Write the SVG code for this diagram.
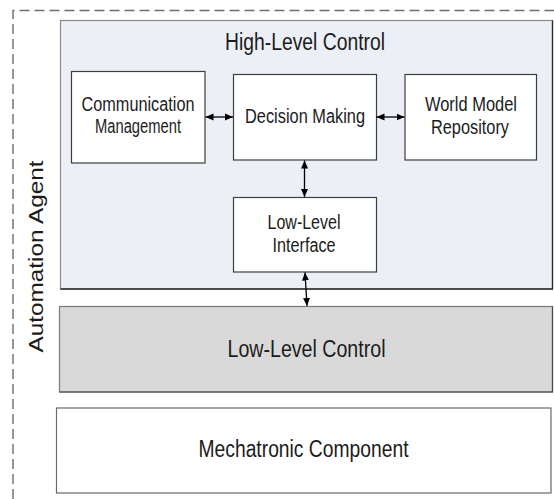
<svg xmlns="http://www.w3.org/2000/svg" width="554" height="499" viewBox="0 0 554 499">
  <style>
    .t { font-family: "Liberation Sans", Arial, sans-serif; fill: #1c1c1c; text-anchor: middle; }
    .big { font-size: 23px; }
    .sm { font-size: 19.5px; }
    .box { fill: #ffffff; stroke: #3f3f3f; stroke-width: 1.2; }
    .conn { stroke: #000; stroke-width: 1.3; fill: none; marker-start: url(#ah); marker-end: url(#ah); }
  </style>
  <defs>
    <marker id="ah" markerUnits="userSpaceOnUse" markerWidth="9" markerHeight="8" refX="8" refY="4" orient="auto-start-reverse">
      <path d="M0,0.5 L8,4 L0,7.5 z" fill="#000"/>
    </marker>
  </defs>
  <rect width="554" height="499" fill="#ffffff"/>

  <g id="automation-agent">
    <path d="M13,499 V10.5 H554" fill="none" stroke="#6e6e6e" stroke-width="1.4" stroke-dasharray="10 5"/>
    <text class="t" font-size="24" textLength="192" lengthAdjust="spacingAndGlyphs" transform="translate(43,256.5) scale(0.84,1) rotate(-90)">Automation Agent</text>
  </g>

  <g id="high-level-control">
    <rect x="60.5" y="20.5" width="492" height="268.5" fill="#eceff5" stroke="#8a8a8a" stroke-width="1.2"/>
    <path d="M60.5,289 H552.5 V20.5" fill="none" stroke="#2a2a2a" stroke-width="1.3"/>
    <text class="t big" x="305" y="50" textLength="160" lengthAdjust="spacingAndGlyphs">High-Level Control</text>
  </g>

  <g id="communication-management">
    <rect class="box" x="71.5" y="71.5" width="133.5" height="91.5"/>
    <text class="t sm" x="138" y="111" textLength="113" lengthAdjust="spacingAndGlyphs">Communication</text>
    <text class="t sm" x="138" y="133" textLength="86" lengthAdjust="spacingAndGlyphs">Management</text>
  </g>

  <g id="decision-making">
    <rect class="box" x="233.5" y="74.5" width="143" height="85.5"/>
    <text class="t sm" x="305" y="123" textLength="120" lengthAdjust="spacingAndGlyphs">Decision Making</text>
  </g>

  <g id="world-model-repository">
    <rect class="box" x="405" y="74.5" width="131.5" height="85.5"/>
    <text class="t sm" x="471" y="111" textLength="92" lengthAdjust="spacingAndGlyphs">World Model</text>
    <text class="t sm" x="470" y="134" textLength="78" lengthAdjust="spacingAndGlyphs">Repository</text>
  </g>

  <g id="low-level-interface">
    <rect class="box" x="233.5" y="197.5" width="143" height="74.5"/>
    <text class="t sm" x="304" y="229" textLength="73" lengthAdjust="spacingAndGlyphs">Low-Level</text>
    <text class="t sm" x="304" y="252" textLength="63" lengthAdjust="spacingAndGlyphs">Interface</text>
  </g>

  <g id="low-level-control">
    <rect x="59.5" y="306.5" width="493" height="85.5" fill="#d9d9d9" stroke="#7a7a7a" stroke-width="1.2"/>
    <path d="M59.5,392 H552.5 V306.5" fill="none" stroke="#4a4a4a" stroke-width="1.2"/>
    <text class="t big" x="306.5" y="357" textLength="158" lengthAdjust="spacingAndGlyphs">Low-Level Control</text>
  </g>

  <g id="mechatronic-component">
    <rect x="56.5" y="408" width="494.5" height="85" fill="#ffffff" stroke="#6a6a6a" stroke-width="1.2"/>
    <text class="t big" x="303.5" y="457" textLength="210" lengthAdjust="spacingAndGlyphs">Mechatronic Component</text>
  </g>

  <g id="connectors">
    <line class="conn" x1="205.5" y1="117" x2="233" y2="117"/>
    <line class="conn" x1="376.5" y1="117" x2="404.5" y2="117"/>
    <line class="conn" x1="304.5" y1="160.5" x2="304.5" y2="197"/>
    <line class="conn" x1="305" y1="272.5" x2="307" y2="306"/>
  </g>
</svg>
